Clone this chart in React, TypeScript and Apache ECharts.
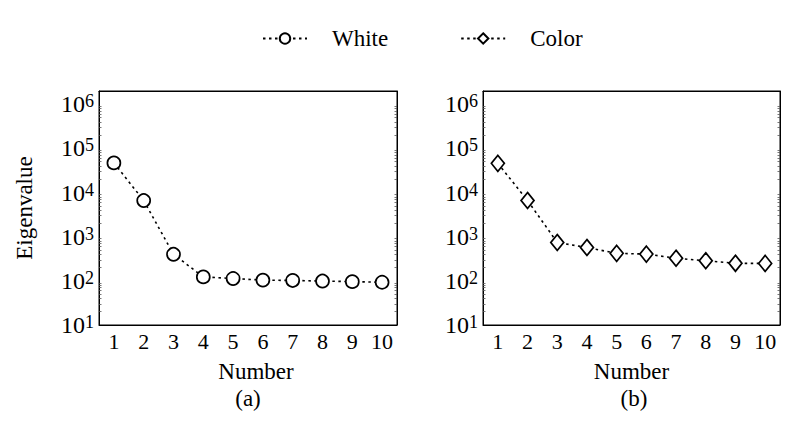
import React, { useEffect, useRef } from "react";
import * as echarts from "echarts";

const categories = ["1", "2", "3", "4", "5", "6", "7", "8", "9", "10"];
const whiteValues = [47000, 6600, 400, 123, 113, 104, 102, 99, 96, 93];
const colorValues = [46000, 6600, 740, 570, 420, 405, 325, 285, 250, 248];
const legendNames = ["White", "Color"];
const panelCaptions = ["(a)", "(b)"];

const FONT = "'Liberation Serif', 'Times New Roman', serif";

function logLabel(v: number) {
  const l = Math.log10(v);
  const e = Math.round(l);
  if (Math.abs(l - e) > 0.01) return "";
  return `{b|10}{s|${e}}`;
}

export default function App() {
  const ref = useRef<HTMLDivElement>(null);
  useEffect(() => {
    if (!ref.current) return;
    const chart = echarts.init(ref.current, undefined, { renderer: "svg" });
    const grids = [
      { left: 99, top: 91, width: 298, height: 234 },
      { left: 483, top: 91, width: 297, height: 234 },
    ];
    const xAxes: any[] = [];
    const yAxes: any[] = [];
    grids.forEach((_, i) => {
      xAxes.push({
        type: "category",
        gridIndex: i,
        data: categories,
        boundaryGap: true,
        axisLine: { show: true, lineStyle: { color: "#000", width: 1 } },
        axisTick: { inside: true, alignWithLabel: true, length: 5, lineStyle: { color: "#000" } },
        axisLabel: { fontSize: 22, fontFamily: FONT, color: "#000", margin: 5 },
        splitLine: { show: false },
        name: "Number",
        nameLocation: "middle",
        nameGap: 35,
        nameTextStyle: {
          fontSize: 23,
          fontFamily: FONT,
          color: "#000",
          padding: i === 0 ? [0, 0, 0, 16] : [0, 0, 0, 0],
        },
      });
      xAxes.push({
        type: "category",
        gridIndex: i,
        position: "top",
        data: categories,
        boundaryGap: true,
        axisLine: { show: true, lineStyle: { color: "#000", width: 1 } },
        axisTick: { inside: true, alignWithLabel: true, length: 5, lineStyle: { color: "#000" } },
        axisLabel: { show: false },
        splitLine: { show: false },
      });
      const yBase = {
        type: "log",
        logBase: 10,
        gridIndex: i,
        min: 10,
        max: 2000000,
        axisLine: { show: true, lineStyle: { color: "#000", width: 1 } },
        axisTick: { inside: true, length: 5, lineStyle: { color: "#000" } },
        minorTick: { show: true, splitNumber: 9, length: 2.5, lineStyle: { color: "#555", width: 0.8 } },
        splitLine: { show: false },
      };
      yAxes.push({
        ...yBase,
        position: "left",
        axisLabel: {
          formatter: logLabel,
          margin: 5,
          color: "#000",
          rich: {
            b: { fontSize: 24, fontFamily: FONT, color: "#000", lineHeight: 24, padding: [5, 0, 0, 0], verticalAlign: "bottom" },
            s: { fontSize: 18, fontFamily: FONT, color: "#000", lineHeight: 17, verticalAlign: "top" },
          },
        },
        name: i === 0 ? "Eigenvalue" : "",
        nameLocation: "middle",
        nameGap: 63,
        nameTextStyle: { fontSize: 23, fontFamily: FONT, color: "#000" },
      });
      yAxes.push({
        ...yBase,
        position: "right",
        axisLabel: { show: false },
      });
    });

    const lineStyle = { color: "#000", width: 1.6, type: [2.5, 3.5] as any };
    chart.setOption({
      animation: false,
      backgroundColor: "#fff",
      legend: {
        data: legendNames,
        top: 22,
        left: 257,
        itemWidth: 44,
        itemHeight: 13,
        itemGap: 72,
        textStyle: { fontSize: 23, fontFamily: FONT, color: "#000", padding: [0, 0, 0, 20] },
      },
      grid: grids.map((g) => ({ ...g, show: true, borderColor: "#000", borderWidth: 1, backgroundColor: "transparent" })),
      xAxis: xAxes,
      yAxis: yAxes,
      series: [
        {
          name: legendNames[0],
          type: "line",
          xAxisIndex: 0,
          yAxisIndex: 0,
          data: whiteValues,
          symbol: "circle",
          symbolSize: 13,
          itemStyle: { color: "#fff", borderColor: "#000", borderWidth: 1.7 },
          lineStyle,
        },
        {
          name: legendNames[1],
          type: "line",
          xAxisIndex: 2,
          yAxisIndex: 2,
          data: colorValues,
          symbol: "diamond",
          symbolSize: [13, 16],
          itemStyle: { color: "#fff", borderColor: "#000", borderWidth: 1.7 },
          lineStyle,
        },
      ],
      graphic: [
        { type: "text", x: 248, y: 398, style: { text: panelCaptions[0], fontSize: 23, fontFamily: FONT, fill: "#000", textAlign: "center", textVerticalAlign: "middle" } },
        { type: "text", x: 634, y: 398, style: { text: panelCaptions[1], fontSize: 23, fontFamily: FONT, fill: "#000", textAlign: "center", textVerticalAlign: "middle" } },
      ],
    });
    return () => chart.dispose();
  }, []);
  return <div ref={ref} style={{ position: "fixed", left: 0, top: 0, width: 800, height: 422 }} />;
}
